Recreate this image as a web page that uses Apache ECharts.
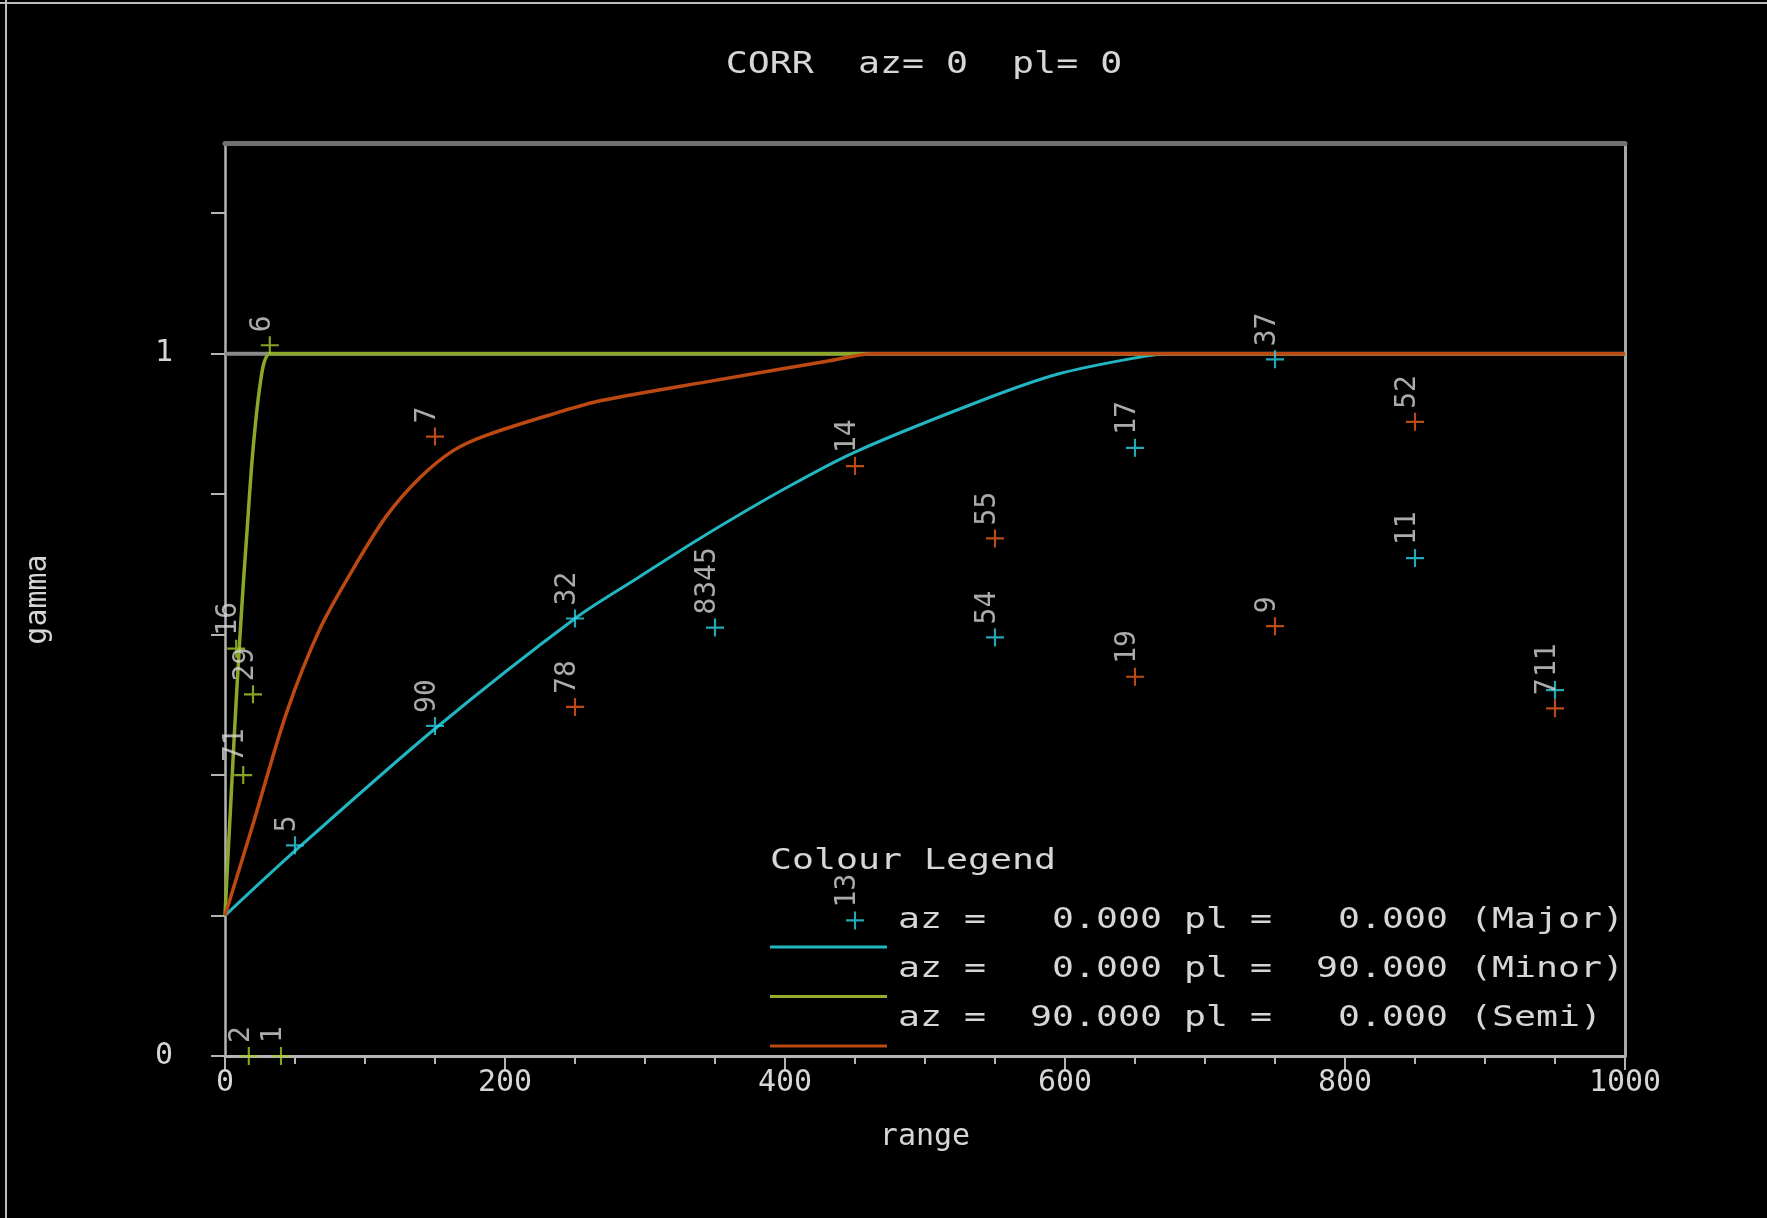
<!DOCTYPE html>
<html>
<head>
<meta charset="utf-8">
<title>CORR az= 0 pl= 0</title>
<script src="https://cdn.jsdelivr.net/npm/echarts@6/dist/echarts.min.js"></script>
<style>
html, body { margin: 0; padding: 0; background: #000; }
#main { width: 1767px; height: 1218px; }
</style>
</head>
<body>
<div id="main"></div>
<script>
// experimental variogram points: lag, gamma, number of pairs
var majorRange = [50, 150, 250, 350, 450, 550, 650, 750, 850, 950];
var majorGamma = [0.30, 0.47, 0.623, 0.61, 0.193, 0.596, 0.866, 0.992, 0.709, 0.521];
var majorPairs = ['5', '90', '32', '8345', '13', '54', '17', '37', '11', '11'];

var minorRange = [8, 13, 17, 20, 32, 40];
var minorGamma = [0.58, 0.40, 0.0, 0.515, 1.012, 0.0];
var minorPairs = ['16', '71', '2', '29', '6', '1'];

var semiRange = [150, 250, 450, 550, 650, 750, 850, 950];
var semiGamma = [0.882, 0.497, 0.840, 0.737, 0.540, 0.612, 0.903, 0.495];
var semiPairs = ['7', '78', '14', '55', '19', '9', '52', '7'];

// fitted model curves
var majorModelX = [0, 50, 150, 250, 295, 340, 400, 450, 540, 595, 650, 675, 750, 850, 1000];
var majorModelY = [0.2, 0.292, 0.466, 0.623, 0.681, 0.738, 0.808, 0.86, 0.933, 0.971, 0.994, 1.0, 1.0, 1.0, 1.0];

var minorModelX = [0, 2, 4, 7, 10, 13, 16, 19, 22, 25, 28, 32, 60, 200, 1000];
var minorModelY = [0.2, 0.28, 0.355, 0.47, 0.575, 0.67, 0.755, 0.84, 0.905, 0.955, 0.988, 1.0, 1.0, 1.0, 1.0];

var semiModelX = [0, 20, 44, 68, 92, 115, 139, 163, 187, 234, 268, 350, 432, 463, 550, 750, 1000];
var semiModelY = [0.2, 0.33, 0.489, 0.609, 0.695, 0.768, 0.823, 0.862, 0.884, 0.914, 0.933, 0.962, 0.99, 1.0, 1.0, 1.0, 1.0];

var sillX = [0, 1000];
var sillY = [1, 1];

var xTicks = [0, 200, 400, 600, 800, 1000];
var yTicks = [0, 0.2, 0.4, 0.6, 0.8, 1.0, 1.2];
var yLabelled = [0, 1];

var titleText = 'CORR  az= 0  pl= 0';
var legendTitle = 'Colour Legend';
var legendRows = [
  'az =   0.000 pl =   0.000 (Major)',
  'az =   0.000 pl =  90.000 (Minor)',
  'az =  90.000 pl =   0.000 (Semi)'
];

var FONT = '"DejaVu Sans Mono", "Liberation Mono", monospace';
var TEXT = '#d6d6d6';
var AXIS = '#b4b4b4';
var CYAN = '#22b6c2', GREEN = '#8ca82a', ORANGE = '#bc4812';
var legendLineColors = [CYAN, '#9aaa2c', ORANGE];
var plus = 'path://M-1.2,-10H1.2V-1.2H10V1.2H1.2V10H-1.2V1.2H-10V-1.2H-1.2Z';

function pairs(xs, ys) {
  return xs.map(function (x, i) { return [x, ys[i]]; });
}
function points(xs, ys, ns) {
  return xs.map(function (x, i) { return { value: [x, ys[i]], name: ns[i] }; });
}

var pointLabel = {
  show: true,
  formatter: '{b}',
  rotate: 90,
  position: [2, -4],
  align: 'left',
  verticalAlign: 'middle',
  color: TEXT,
  fontFamily: FONT,
  fontSize: 28
};

function modelLine(xs, ys, color, width) {
  return {
    type: 'line',
    data: pairs(xs, ys),
    symbol: 'none',
    smooth: 0.3,
    lineStyle: { color: color, width: width },
    z: 2,
    silent: true
  };
}

function pointSeries(xs, ys, ns, color) {
  return {
    type: 'scatter',
    data: points(xs, ys, ns),
    symbol: plus,
    symbolSize: 18,
    itemStyle: { color: color },
    label: pointLabel,
    z: 4,
    silent: true
  };
}

var graphics = [
  { type: 'line', shape: { x1: 0, y1: 3, x2: 1767, y2: 3 }, style: { stroke: '#bdbdbd', lineWidth: 2 }, silent: true },
  { type: 'line', shape: { x1: 6, y1: 0, x2: 6, y2: 1218 }, style: { stroke: '#bdbdbd', lineWidth: 2 }, silent: true },
  {
    type: 'text', x: 924, y: 65, scaleX: 1.18, silent: true,
    style: { text: titleText, fill: TEXT, fontFamily: FONT, fontSize: 31,
      align: 'center', verticalAlign: 'middle', textAlign: 'center', textVerticalAlign: 'middle' }
  },
  {
    type: 'text', x: 770, y: 862, scaleX: 1.305, silent: true,
    style: { text: legendTitle, fill: TEXT, fontFamily: FONT, fontSize: 28,
      align: 'left', verticalAlign: 'middle', textAlign: 'left', textVerticalAlign: 'middle' }
  }
];
legendRows.forEach(function (row, i) {
  graphics.push({
    type: 'text', x: 898, y: 921 + i * 49, scaleX: 1.305, silent: true,
    style: { text: row, fill: TEXT, fontFamily: FONT, fontSize: 28,
      align: 'left', verticalAlign: 'middle', textAlign: 'left', textVerticalAlign: 'middle' }
  });
  graphics.push({
    type: 'line', silent: true,
    shape: { x1: 770, y1: 947 + i * 49.5, x2: 887, y2: 947 + i * 49.5 },
    style: { stroke: legendLineColors[i], lineWidth: 3 }
  });
});

var chart = echarts.init(document.getElementById('main'));
chart.setOption({
  backgroundColor: '#000',
  animation: false,
  grid: { left: 225, top: 143, width: 1400, height: 913, show: false },
  xAxis: [
    {
      type: 'value', min: 0, max: 1000, interval: 200, position: 'bottom',
      axisLine: { show: true, onZero: false, lineStyle: { color: AXIS, width: 3 } },
      axisTick: { show: true, length: 14, lineStyle: { color: AXIS, width: 2 } },
      minorTick: { show: true, splitNumber: 4, length: 8, lineStyle: { color: AXIS, width: 2 } },
      axisLabel: {
        margin: 12, color: TEXT, fontFamily: FONT, fontSize: 30,
        formatter: function (v) { return xTicks.indexOf(v) >= 0 ? String(v) : ''; }
      },
      splitLine: { show: false },
      name: 'range', nameLocation: 'middle', nameGap: 66,
      nameTextStyle: { color: TEXT, fontFamily: FONT, fontSize: 30 }
    },
    {
      type: 'value', min: 0, max: 1000, position: 'top',
      axisLine: { show: true, onZero: false, lineStyle: { color: '#707070', width: 5 } },
      axisTick: { show: false }, axisLabel: { show: false }, splitLine: { show: false }
    }
  ],
  yAxis: [
    {
      type: 'value', min: 0, max: 1.3, interval: 0.2, position: 'left',
      axisLine: { show: true, onZero: false, lineStyle: { color: AXIS, width: 2.5 } },
      axisTick: { show: true, length: 14, customValues: yTicks, lineStyle: { color: AXIS, width: 2 } },
      axisLabel: {
        margin: 52, color: TEXT, fontFamily: FONT, fontSize: 30,
        customValues: yLabelled,
        formatter: function (v) { return String(Math.round(v)); }
      },
      splitLine: { show: false },
      name: 'gamma', nameLocation: 'middle', nameGap: 172, nameRotate: 90,
      nameTextStyle: { color: TEXT, fontFamily: FONT, fontSize: 30 }
    },
    {
      type: 'value', min: 0, max: 1.3, position: 'right',
      axisLine: { show: true, onZero: false, lineStyle: { color: '#a8a8a8', width: 3 } },
      axisTick: { show: false }, axisLabel: { show: false }, splitLine: { show: false }
    }
  ],
  series: [
    {
      type: 'line', data: pairs(sillX, sillY), symbol: 'none',
      lineStyle: { color: '#8a8a8a', width: 4 }, z: 1, silent: true
    },
    modelLine(majorModelX, majorModelY, CYAN, 3),
    modelLine(minorModelX, minorModelY, GREEN, 3.5),
    modelLine(semiModelX, semiModelY, ORANGE, 3.5),
    pointSeries(majorRange, majorGamma, majorPairs, '#2ed2e2'),
    pointSeries(minorRange, minorGamma, minorPairs, '#a6ca2c'),
    pointSeries(semiRange, semiGamma, semiPairs, '#ea5e1c')
  ],
  graphic: graphics
});
</script>
</body>
</html>
